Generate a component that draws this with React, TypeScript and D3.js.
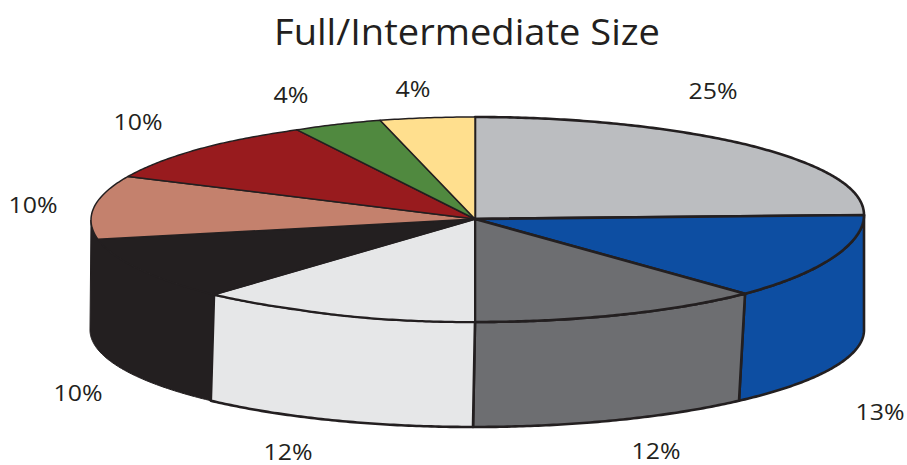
import React from "react";
import * as d3 from "d3";

const title = "Full/Intermediate Size";
const shares = [25, 13, 12, 12, 10, 10, 10, 4, 4];
const labels = ["25%", "13%", "12%", "12%", "10%", "10%", "10%", "4%", "4%"];
const colors = ["#BBBDC0", "#0D4EA2", "#6D6E71", "#E6E7E8", "#231F20", "#C4816D", "#981B1E", "#50893F", "#FFDF8E"];
const INK = "#231F20";

// Layout of the labels, in the order of the slices
const labelX = [713, 880, 656, 288, 78, 33, 138, 291, 413];
const labelY = [99, 420, 459, 460, 401, 213, 130, 103, 97];
// Outline width of each slice's top face
const topStroke = [2.6, 2.6, 2.6, 2, 1.5, 1.5, 1.5, 1.5, 1.5];

// The pie's two rims: sin/cos of the slice angle mapped to the page, piecewise
const topX = d3.scaleLinear().domain([-1, -0.6845, -0.482, -0.249, 0, 0.6845, 1]).range([91, 214, 297, 380, 475, 745, 864]);
const topY = d3.scaleLinear().domain([-1, 0, 1]).range([322, 219, 117]);
const botX = d3.scaleLinear().domain([-1, 0, 0.6845, 1]).range([90, 473, 739, 864]);
const botY = d3.scaleLinear().domain([-1, 0, 1]).range([427, 330, 233]);

type P = [number, number];
const topPt = (a: number): P => {
  const s = Math.sin(a);
  return [topX(s), topY(Math.cos(a)) - (s > 0 ? 4 * Math.pow(s, 6) : -1 * s * s)];
};
const botPt = (a: number): P => [botX(Math.sin(a)), botY(Math.cos(a))];

const sweep = (a0: number, a1: number, pt: (a: number) => P): P[] => {
  const n = Math.max(2, Math.ceil(Math.abs(a1 - a0) / 0.01));
  return d3.range(n + 1).map((i) => pt(a0 + ((a1 - a0) * i) / n));
};

const line = d3.line<P>();
const arcs = d3.pie<number>().sort(null).value((d) => d)(shares);
const apex: P = [topX(0), topY(0)];

export default function App() {
  const walls = arcs
    .map((a, i) => ({ a, i }))
    .filter(({ i }) => i >= 1 && i <= 4)
    .map(({ a, i }) => {
      const end = i === 4 ? (3 * Math.PI) / 2 : a.endAngle;
      const start = Math.max(a.startAngle, Math.PI / 2);
      const pts = [...sweep(start, end, topPt), ...sweep(end, start, botPt)];
      return { i, d: line(pts)! + "Z" };
    });

  return (
    <svg width={907} height={465} style={{ position: "absolute", left: 0, top: 0 }} fontFamily="'Open Sans', sans-serif">
      <text x={467} y={45} textAnchor="middle" fontSize={36} fill={INK} textLength={386} lengthAdjust="spacingAndGlyphs">
        {title}
      </text>
      {walls.map(({ i, d }) => (
        <path key={"w" + i} d={d} fill={colors[i]} stroke={INK} strokeWidth={i === 4 ? 1 : 2.6} strokeLinejoin="round" />
      ))}
      {arcs.map((a, i) => {
        const d = line([apex, ...sweep(a.startAngle, a.endAngle, topPt)])! + "Z";
        return <path key={"t" + i} d={d} fill={colors[i]} stroke={INK} strokeWidth={topStroke[i]} strokeLinejoin="round" />;
      })}
      {labels.map((t, i) => (
        <text key={"l" + i} x={labelX[i]} y={labelY[i]} textAnchor="middle" fontSize={22} fill={INK} textLength={t.length === 3 ? 49 : 35} lengthAdjust="spacingAndGlyphs">
          {t}
        </text>
      ))}
    </svg>
  );
}
